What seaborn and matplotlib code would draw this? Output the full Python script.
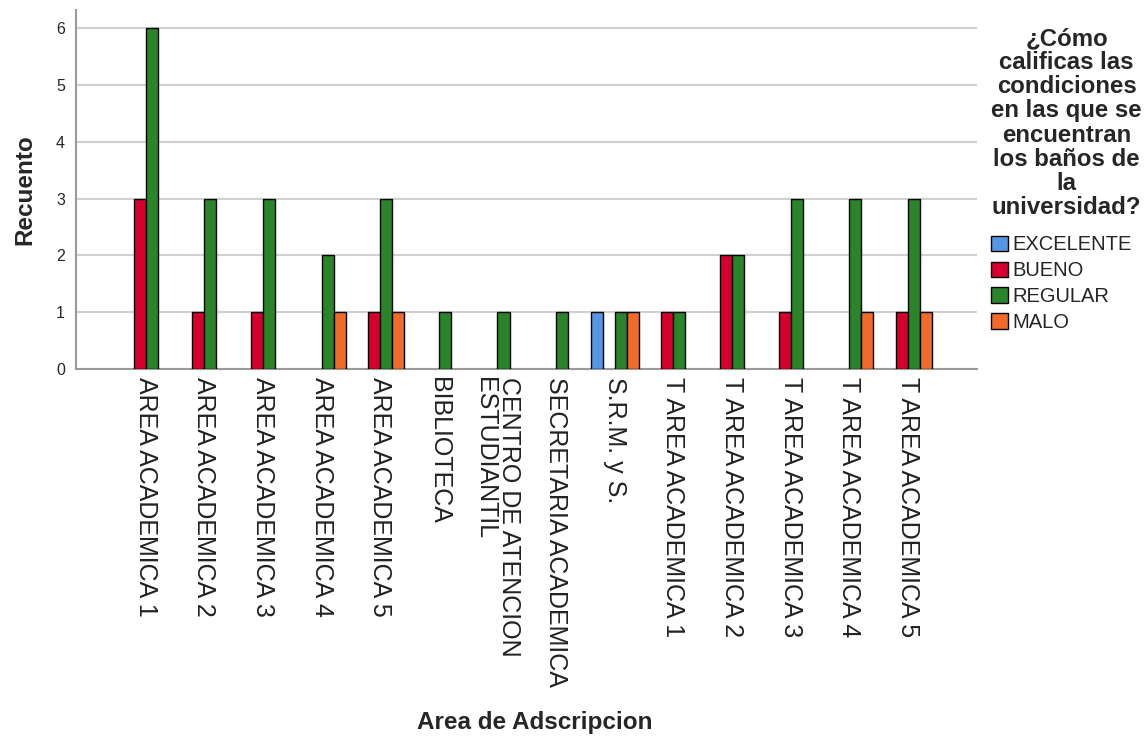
import matplotlib
matplotlib.use("Agg")
import matplotlib.pyplot as plt
import seaborn as sns
import pandas as pd

categories = ["AREA ACADEMICA 1", "AREA ACADEMICA 2", "AREA ACADEMICA 3",
              "AREA ACADEMICA 4", "AREA ACADEMICA 5", "BIBLIOTECA",
              "CENTRO DE ATENCION\nESTUDIANTIL", "SECRETARIA ACADEMICA",
              "S.R.M. y S.", "T AREA ACADEMICA 1", "T AREA ACADEMICA 2",
              "T AREA ACADEMICA 3", "T AREA ACADEMICA 4", "T AREA ACADEMICA 5"]
ratings = ["EXCELENTE", "BUENO", "REGULAR", "MALO"]
excelente = [0, 0, 0, 0, 0, 0, 0, 0, 1, 0, 0, 0, 0, 0]
bueno     = [3, 1, 1, 0, 1, 0, 0, 0, 0, 1, 2, 1, 0, 1]
regular   = [6, 3, 3, 2, 3, 1, 1, 1, 1, 1, 2, 3, 3, 3]
malo      = [0, 0, 0, 1, 1, 0, 0, 0, 1, 0, 0, 0, 1, 1]
colors = ["#5596E6", "#D6002E", "#2A852A", "#F26A2A"]

rows = []
for rating, vals in zip(ratings, [excelente, bueno, regular, malo]):
    for cat, v in zip(categories, vals):
        if v > 0:
            rows.append({"Area": cat, "Rating": rating, "Recuento": v})
df = pd.DataFrame(rows)

sns.set_style("white")
plt.rcParams["font.family"] = ["Liberation Sans", "DejaVu Sans"]

fig = plt.figure(figsize=(11.48, 7.36), dpi=100)
ax = fig.add_axes([76/1148, 1 - 369/736, (977 - 76)/1148, (369 - 10)/736])

sns.barplot(data=df, x="Area", y="Recuento", hue="Rating",
            order=categories, hue_order=ratings,
            palette=dict(zip(ratings, colors)), saturation=1,
            width=0.82, dodge=True, edgecolor="black", linewidth=1.0,
            ax=ax, zorder=3)

ax.set_xlim(-1.19, 14.18)
ax.set_ylim(0, 6.32)
ax.set_yticks(range(0, 7))
ax.yaxis.grid(True, color="#d0d0d0", linewidth=1.5, zorder=0)
ax.set_axisbelow(True)
for s in ["top", "right"]:
    ax.spines[s].set_visible(False)
ax.spines["left"].set_color("#9a9a9a")
ax.spines["left"].set_linewidth(1.5)
ax.spines["bottom"].set_color("#9a9a9a")
ax.spines["bottom"].set_linewidth(1.5)
ax.tick_params(axis="both", length=0)
ax.tick_params(axis="y", labelsize=11.5, pad=8)
ax.set_xticks(range(len(categories)))
ax.set_xticklabels(categories, rotation=270, ha="center", va="top",
                   fontsize=18, linespacing=1.0, color="#222222")
for lbl in ax.get_xticklabels():
    lbl.set_multialignment("left")
ax.tick_params(axis="x", pad=6)

ax.set_ylabel("Recuento", fontsize=17.5, fontweight="bold", labelpad=14)
ax.set_xlabel("Area de Adscripcion", fontsize=17.5, fontweight="bold")
ax.xaxis.set_label_coords(0.5 + (8/901), -0.952)

leg = ax.legend(title="¿Cómo\ncalificas las\ncondiciones\nen las que se\nencuentran\nlos baños de\nla\nuniversidad?",
                loc="upper left", bbox_to_anchor=(1.016, 0.952),
                frameon=False, fontsize=14.5, title_fontsize=17.3,
                handlelength=0.8, handleheight=0.8, handletextpad=0.25,
                labelspacing=0.34, borderaxespad=0, borderpad=0,
                alignment="left")
t = leg.get_title()
t.set_fontweight("bold")
t.set_linespacing(1.06)
t.set_multialignment("center")
leg._legend_box.sep = 12
for h in leg.legend_handles:
    h.set_edgecolor("black")
    h.set_linewidth(1.0)

fig.savefig("out.png", dpi=100)
